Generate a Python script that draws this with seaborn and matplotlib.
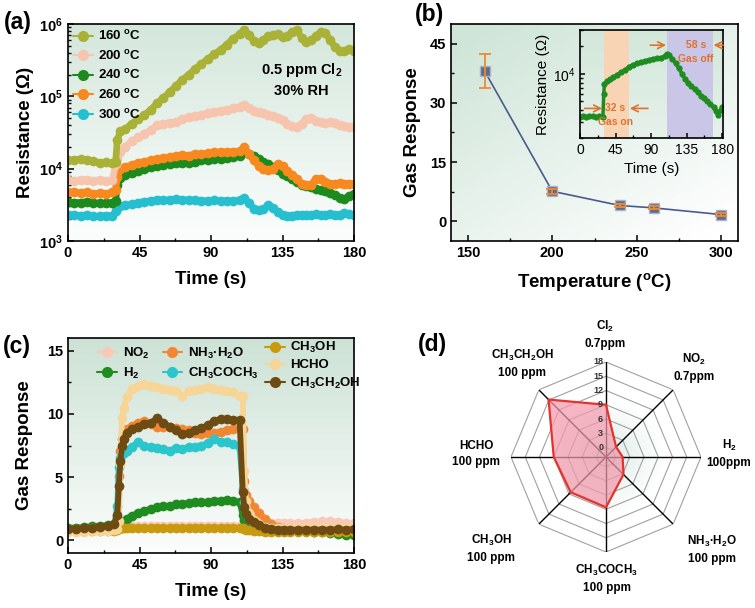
import numpy as np
import pandas as pd
import matplotlib
matplotlib.use('Agg')
import matplotlib.pyplot as plt
import seaborn as sns
from matplotlib.lines import Line2D
from matplotlib.colors import LinearSegmentedColormap
from matplotlib.ticker import MultipleLocator, LogLocator, NullFormatter

# ---------------- data ----------------
# (a) resistance vs time at different temperatures (0.5 ppm Cl2)
T_A = [0, 4, 8, 12, 16, 20, 24, 28, 30, 31, 33, 36, 40, 44, 48, 52, 56, 60, 64, 68, 72, 76,
       80, 84, 88, 92, 96, 100, 104, 108, 111, 114, 117, 120, 123, 126, 129, 132, 135, 138,
       141, 144, 147, 150, 153, 156, 159, 162, 165, 168, 171, 174, 177, 180]
R_160 = [1.30e4, 1.32e4, 1.35e4, 1.33e4, 1.28e4, 1.20e4, 1.22e4, 1.20e4,
         1.25e4, 2.5e4, 3.3e4, 3.5e4,
         4.2e4, 4.8e4, 5.5e4, 6.5e4, 8.0e4, 9.5e4, 1.15e5, 1.4e5, 1.7e5, 2.0e5, 2.4e5, 2.8e5,
         3.3e5, 3.8e5, 4.4e5, 5.2e5, 6.3e5, 7.2e5,
         8.3e5, 7.0e5, 5.8e5, 5.5e5, 6.0e5, 6.8e5, 7.0e5, 7.3e5, 6.6e5, 6.8e5, 7.8e5, 8.2e5,
         6.5e5, 5.6e5, 6.0e5, 6.8e5, 7.8e5, 7.5e5, 6.0e5, 4.8e5, 4.3e5, 4.3e5, 4.5e5, 4.3e5]
R_200 = [7.0e3, 6.8e3, 7.0e3, 6.9e3, 6.7e3, 6.9e3, 6.8e3, 7.0e3,
         1.15e4, 1.4e4, 1.7e4, 2.0e4,
         2.4e4, 2.7e4, 3.0e4, 3.4e4, 4.0e4, 4.2e4, 4.3e4, 4.4e4, 4.8e4, 5.2e4, 5.4e4, 5.5e4,
         5.8e4, 6.0e4, 6.3e4, 6.5e4, 6.8e4, 7.2e4,
         7.6e4, 7.0e4, 6.3e4, 6.0e4, 5.8e4, 5.5e4, 5.3e4, 5.0e4, 4.7e4, 4.2e4, 3.9e4, 3.8e4,
         4.2e4, 4.9e4, 5.0e4, 4.6e4, 4.4e4, 4.3e4, 4.4e4, 4.3e4, 4.0e4, 3.9e4, 3.8e4, 3.8e4]
R_240 = [3.5e3, 3.4e3, 3.4e3, 3.5e3, 3.4e3, 3.3e3, 3.3e3, 3.4e3,
         3.6e3, 5.9e3, 7.5e3, 8.2e3,
         8.8e3, 9.2e3, 9.8e3, 1.05e4, 1.08e4, 1.12e4, 1.15e4, 1.2e4, 1.18e4, 1.2e4, 1.25e4,
         1.3e4, 1.32e4, 1.35e4, 1.38e4, 1.4e4, 1.45e4, 1.48e4,
         1.7e4, 1.6e4, 1.48e4, 1.38e4, 1.25e4, 1.15e4, 1.05e4, 9.5e3, 8.5e3, 8.0e3, 7.3e3,
         6.6e3, 6.0e3, 5.7e3, 5.5e3, 5.3e3, 5.1e3, 4.9e3, 4.6e3, 4.3e3, 3.9e3, 3.8e3, 4.2e3, 4.5e3]
R_260 = [4.8e3, 4.7e3, 4.6e3, 4.7e3, 4.5e3, 4.6e3, 4.5e3, 4.7e3,
         5.0e3, 7.6e3, 9.8e3, 1.05e4,
         1.12e4, 1.2e4, 1.25e4, 1.3e4, 1.35e4, 1.4e4, 1.45e4, 1.5e4, 1.55e4, 1.52e4, 1.6e4,
         1.6e4, 1.65e4, 1.7e4, 1.7e4, 1.7e4, 1.72e4, 1.75e4,
         2.0e4, 1.6e4, 1.3e4, 1.1e4, 1.0e4, 9.5e3, 1.0e4, 1.15e4, 1.1e4, 9.2e3, 8.3e3, 7.3e3,
         6.2e3, 5.9e3, 6.0e3, 7.3e3, 7.2e3, 6.5e3, 6.2e3, 6.2e3, 6.3e3, 6.2e3, 6.2e3, 6.2e3]
R_300 = [2.3e3, 2.3e3, 2.25e3, 2.3e3, 2.2e3, 2.2e3, 2.25e3, 2.25e3,
         2.6e3, 2.9e3, 3.0e3, 3.1e3,
         3.2e3, 3.4e3, 3.5e3, 3.6e3, 3.7e3, 3.7e3, 3.7e3, 3.75e3, 3.7e3, 3.7e3, 3.65e3, 3.6e3,
         3.6e3, 3.65e3, 3.6e3, 3.6e3, 3.6e3, 3.65e3,
         3.9e3, 3.3e3, 2.8e3, 2.7e3, 2.75e3, 3.1e3, 2.9e3, 2.5e3, 2.3e3, 2.25e3, 2.25e3, 2.3e3,
         2.3e3, 2.3e3, 2.3e3, 2.35e3, 2.3e3, 2.3e3, 2.35e3, 2.3e3, 2.3e3, 2.4e3, 2.35e3, 2.3e3]
A_LABELS = ['160 $^{o}$C', '200 $^{o}$C', '240 $^{o}$C', '260 $^{o}$C', '300 $^{o}$C']
A_COLORS = ['#a9b236', '#f7c4ae', '#1c8a1c', '#f7891e', '#26bfd0']

# (b) response vs temperature
TEMP = [160, 200, 240, 260, 300]
RESP = [38.0, 7.6, 4.0, 3.4, 1.7]
ERR = [4.3, 0.6, 0.5, 0.4, 0.4]

# (b) inset
T_IN = [0, 4, 8, 12, 16, 20, 24, 29, 30, 31, 34, 38, 42, 47, 52, 57, 62, 67, 72, 77, 82, 87,
        92, 97, 102, 107, 110, 113, 117, 121, 125, 129, 133, 137, 141, 145, 149, 153, 157,
        161, 165, 169, 172, 175, 178, 180]
R_IN = [3.4e3, 3.45e3, 3.4e3, 3.5e3, 3.45e3, 3.4e3, 3.45e3,
        3.4e3, 6.0e3, 7.8e3,
        8.3e3, 8.7e3, 9.2e3,
        9.8e3, 1.04e4, 1.1e4, 1.2e4, 1.25e4, 1.3e4, 1.34e4, 1.38e4, 1.42e4, 1.46e4, 1.48e4,
        1.5e4, 1.55e4,
        1.66e4, 1.6e4,
        1.45e4, 1.3e4, 1.15e4, 1.0e4, 8.8e3, 8.0e3, 7.4e3, 6.8e3, 6.3e3, 5.8e3, 5.4e3, 5.0e3,
        4.7e3, 4.3e3,
        3.9e3, 3.6e3, 4.0e3, 4.4e3]
GAS_ON = (30, 62)
GAS_OFF = (110, 168)

# (c) response to different gases
T_C = [0, 5, 10, 15, 20, 25, 29, 31, 32, 33, 34, 35, 37, 40, 44, 48, 52, 56, 60, 64, 68, 72,
       76, 80, 84, 88, 92, 96, 100, 104, 108, 110, 111, 112, 114, 117, 120, 124, 128, 132,
       136, 140, 145, 150, 155, 160, 165, 170, 175, 180]
G_NO2 = [0.9, 0.95, 1.0, 1.0, 1.05, 1.05, 1.1,
         1.1, 1.1, 1.1, 1.1, 1.1, 1.1,
         1.1, 1.1, 1.1, 1.1, 1.1, 1.1, 1.1, 1.1, 1.1, 1.1, 1.1, 1.1, 1.1, 1.1, 1.1, 1.1, 1.1, 1.1,
         1.3, 1.6, 1.6, 1.5, 1.5, 1.45, 1.4, 1.4, 1.35, 1.35, 1.35,
         1.35, 1.4, 1.45, 1.5, 1.5, 1.45, 1.4, 1.35]
G_H2 = [1.0, 1.0, 1.05, 1.1, 1.15, 1.2, 1.3,
        1.3, 1.3, 1.3, 1.35, 1.5, 1.7,
        1.95, 2.15, 2.35, 2.5, 2.6, 2.7, 2.75, 2.85, 2.9, 2.95, 3.0, 3.0, 3.05, 3.1, 3.15, 3.2,
        3.15, 3.0,
        1.97, 1.6, 1.3, 1.15, 1.05, 1.0, 0.92, 0.88, 0.85, 0.8, 0.78,
        0.75, 0.72, 0.7, 0.65, 0.6, 0.5, 0.45, 0.4]
G_NH3 = [0.9, 0.9, 0.92, 0.95, 1.0, 1.05, 1.15,
         1.6, 5.1, 7.1, 8.0, 8.4, 8.8,
         9.05, 9.3, 9.45, 9.2, 9.0, 9.0, 9.0, 8.9, 8.8, 8.7, 8.5, 8.4, 8.5, 8.5, 8.6, 8.7, 8.8, 8.9,
         8.8, 4.7, 3.6, 3.1, 2.6, 2.2, 1.7, 1.3, 1.05, 0.95, 0.92,
         0.9, 0.9, 0.9, 0.9, 0.9, 0.9, 0.9, 0.9]
G_ACE = [0.9, 0.9, 0.92, 0.95, 1.0, 1.05, 1.1,
         2.75, 5.8, 6.5, 6.8, 6.9, 7.1,
         7.4, 7.75, 7.5, 7.35, 7.3, 7.2, 7.1, 7.3, 7.2, 7.4, 7.4, 7.5, 7.7, 8.0, 7.8, 7.75, 7.6, 7.4,
         4.1, 3.0, 2.1, 1.7, 1.4, 1.2, 1.05, 0.97, 0.9, 0.88, 0.87,
         0.86, 0.85, 0.85, 0.85, 0.85, 0.82, 0.8, 0.8]
G_MEOH = [0.75, 0.75, 0.75, 0.75, 0.75, 0.75, 0.75,
          0.8, 0.9, 0.97, 0.98, 1.0, 1.0,
          1.0, 1.0, 0.98, 1.0, 1.0, 0.98, 1.0, 1.0, 0.98, 1.0, 1.0, 0.98, 1.0, 1.0, 0.98, 1.0,
          1.0, 0.98,
          0.97, 0.9, 0.85, 0.8, 0.75, 0.72, 0.7, 0.7, 0.7, 0.7, 0.7,
          0.7, 0.7, 0.7, 0.7, 0.7, 0.7, 0.7, 0.7]
G_HCHO = [0.7, 0.7, 0.7, 0.72, 0.72, 0.75, 0.8,
          0.9, 1.5, 6.0, 9.7, 10.5, 11.3,
          12.0, 12.2, 12.4, 12.2, 12.1, 12.0, 11.9, 11.8, 11.4, 11.8, 11.9, 12.0, 12.1, 12.0,
          11.9, 11.8, 11.7, 11.4,
          11.4, 5.5, 3.1, 2.2, 1.6, 1.3, 1.05, 1.0, 0.95, 0.95, 0.95,
          0.95, 0.95, 0.95, 0.95, 0.95, 0.95, 0.95, 0.95]
G_ETOH = [0.9, 0.92, 0.95, 1.0, 1.05, 1.15, 1.3,
          1.97, 4.3, 6.3, 7.5, 8.0, 8.5,
          8.8, 9.0, 9.2, 9.3, 9.65, 9.3, 9.0, 8.7, 8.4, 8.5, 8.7, 8.9, 9.1, 9.45, 9.6, 9.6, 9.55, 9.5,
          3.8, 2.6, 2.1, 1.7, 1.45, 1.2, 1.0, 0.9, 0.85, 0.85, 0.84,
          0.84, 0.85, 0.85, 0.84, 0.85, 0.86, 0.85, 0.86]
C_LABELS = ['NO$_2$', 'H$_2$', 'NH$_3$·H$_2$O', 'CH$_3$COCH$_3$', 'CH$_3$OH', 'HCHO', 'CH$_3$CH$_2$OH']
C_COLORS = ['#f9c9b5', '#1e8c1e', '#f28733', '#2ac6cc', '#c99a0d', '#f7d597', '#6e4b12']

# (d) radar
RADAR_LABELS = ['Cl$_2$\n0.7ppm', 'NO$_2$\n0.7ppm', 'H$_2$\n100ppm', 'NH$_3$·H$_2$O\n100 ppm',
                'CH$_3$COCH$_3$\n100 ppm', 'CH$_3$OH\n100 ppm', 'HCHO\n100 ppm',
                'CH$_3$CH$_2$OH\n100 ppm']
RADAR_VALS = [9.0, 1.0, 1.5, 3.2, 8.6, 8.5, 9.0, 15.1]
RADAR_TICKS = [0, 3, 6, 9, 12, 15, 18]

# ---------------- style ----------------
sns.set_theme(style='ticks')
plt.rcParams['font.family'] = ['Liberation Sans', 'DejaVu Sans']
plt.rcParams.update({
    'font.weight': 'bold', 'axes.labelweight': 'bold', 'mathtext.default': 'regular',
    'xtick.direction': 'in', 'ytick.direction': 'in',
    'xtick.color': 'black', 'ytick.color': 'black', 'axes.edgecolor': 'black',
    'axes.labelcolor': 'black', 'text.color': 'black',
    'xtick.major.size': 4, 'ytick.major.size': 4, 'xtick.minor.size': 2.5, 'ytick.minor.size': 2.5,
    'xtick.major.width': 1.1, 'ytick.major.width': 1.1, 'xtick.minor.width': 1.0,
    'ytick.minor.width': 1.0, 'axes.linewidth': 1.2,
})

W, H = 755, 608
fig = plt.figure(figsize=(W / 100, H / 100), dpi=100)


def box(l, t, w, h):
    return [l / W, 1 - (t + h) / H, w / W, h / H]


def gradient_bg(rect, c_top, c_bot, diagonal=False, z=0):
    bg = fig.add_axes(rect, zorder=z)
    bg.set_axis_off()
    yy, xx = np.mgrid[0:1:200j, 0:1:200j]
    g = np.clip(0.6 * yy + 0.5 * xx - 0.05, 0, 1) if diagonal else yy
    cmap = LinearSegmentedColormap.from_list('g', [c_top, c_bot])
    bg.imshow(g, cmap=cmap, aspect='auto', extent=[0, 1, 0, 1], origin='upper', vmin=0, vmax=1)
    return bg


def main_axes(rect, z=1):
    ax = fig.add_axes(rect, zorder=z)
    ax.set_facecolor('none')
    for s in ax.spines.values():
        s.set_visible(True)
        s.set_linewidth(1.2)
    ax.tick_params(which='both', top=False, right=False)
    return ax


RA = box(68, 24, 286, 217)
RB = box(451, 24, 287, 217)
RI = box(580, 30, 143, 108)
RC = box(68, 338, 286, 215)
RD = box(511, 362, 190, 190)

# ---------------- (a) ----------------
gradient_bg(RA, '#d4e7dc', '#fbfdfc')
axA = main_axes(RA)
series_a = [R_160, R_200, R_240, R_260, R_300]
for idx in [4, 2, 3, 1, 0]:
    sns.lineplot(x=T_A, y=series_a[idx], ax=axA, color=A_COLORS[idx], marker='o', markersize=7,
                 markeredgewidth=0, linewidth=4.8, legend=False)
axA.set_yscale('log')
axA.set_xlim(0, 180)
axA.set_ylim(1e3, 1e6)
axA.xaxis.set_major_locator(MultipleLocator(45))
axA.xaxis.set_minor_locator(MultipleLocator(22.5))
axA.yaxis.set_minor_locator(LogLocator(base=10, subs=np.arange(2, 10)))
axA.yaxis.set_minor_formatter(NullFormatter())
axA.tick_params(labelsize=10.5)
axA.set_xlabel('Time (s)', fontsize=13.5, labelpad=8)
axA.set_ylabel('Resistance (Ω)', fontsize=13.5, labelpad=4)
hA = [Line2D([0], [0], color=c, marker='o', markersize=8, lw=1.5, markeredgewidth=0) for c in A_COLORS]
axA.legend(hA, A_LABELS, loc='upper left', bbox_to_anchor=(0.0, 1.0), frameon=False, fontsize=9.5,
           handlelength=1.5, handletextpad=0.4, labelspacing=0.42, borderaxespad=0.2, borderpad=0.2)
axA.text(147, 10 ** 5.36, '0.5 ppm Cl$_2$', ha='center', va='center', fontsize=10.5)
axA.text(147, 10 ** 5.07, '30% RH', ha='center', va='center', fontsize=10.5)

# ---------------- (b) ----------------
gradient_bg(RB, '#cfe5d8', '#ffffff', diagonal=True)
axB = main_axes(RB)
sns.lineplot(x=TEMP, y=RESP, ax=axB, color='#4b5a8e', lw=1.2, marker='s', markersize=7.5,
             markerfacecolor='#5e6c8e', markeredgecolor='#aab3c8', markeredgewidth=1, legend=False)
axB.errorbar(TEMP, RESP, yerr=ERR, fmt='none', ecolor='#f08a30', elinewidth=1.3, capsize=4,
             capthick=1.3, zorder=3)
axB.set_xlim(140, 310)
axB.set_ylim(-5, 50)
axB.set_xticks([150, 200, 250, 300])
axB.set_yticks([0, 15, 30, 45])
axB.xaxis.set_minor_locator(MultipleLocator(25))
axB.yaxis.set_minor_locator(MultipleLocator(7.5))
axB.tick_params(labelsize=10.5)
axB.set_xlabel('Temperature ($^{o}$C)', fontsize=13.5, labelpad=8)
axB.set_ylabel('Gas Response', fontsize=13.5, labelpad=6)

# inset
gradient_bg(RI, '#d2e7da', '#e6f1ea', z=2)
axI = main_axes(RI, z=3)
axI.axvspan(*GAS_ON, color='#f8d4b4', lw=0, zorder=0)
axI.axvspan(*GAS_OFF, color='#c9c6e7', lw=0, zorder=0)
sns.lineplot(x=T_IN, y=R_IN, ax=axI, color='#1e8c1e', marker='o', markersize=4.5,
             markeredgewidth=0, lw=2.5, legend=False)
axI.set_yscale('log')
axI.set_xlim(0, 181)
axI.set_ylim(2e3, 3e4)
axI.xaxis.set_major_locator(MultipleLocator(45))
axI.xaxis.set_minor_locator(MultipleLocator(22.5))
axI.yaxis.set_minor_locator(LogLocator(base=10, subs=np.arange(2, 10)))
axI.yaxis.set_minor_formatter(NullFormatter())
axI.tick_params(labelsize=10, length=3.5)
axI.tick_params(which='minor', length=2.2)
for lab in axI.get_xticklabels() + axI.get_yticklabels():
    lab.set_fontweight('normal')
axI.set_xlabel('Time (s)', fontsize=11, fontweight='normal', labelpad=4)
axI.set_ylabel('Resistance (Ω)', fontsize=11, fontweight='normal', labelpad=2)
OR = '#e0722e'
arr = dict(arrowstyle='->', color=OR, lw=1.2, shrinkA=0, shrinkB=0)
axI.annotate('', xy=(28, 4.2e3), xytext=(6, 4.2e3), arrowprops=arr)
axI.annotate('', xy=(63, 4.2e3), xytext=(86, 4.2e3), arrowprops=arr)
axI.text(45, 4.2e3, '32 s', color=OR, fontsize=7.5, ha='center', va='center')
axI.text(45, 2.95e3, 'Gas on', color=OR, fontsize=7.5, ha='center', va='center')
axI.annotate('', xy=(109, 2.05e4), xytext=(89, 2.05e4), arrowprops=arr)
axI.annotate('', xy=(169, 2.05e4), xytext=(181, 2.05e4), arrowprops=arr)
axI.text(147, 2.05e4, '58 s', color=OR, fontsize=7.5, ha='center', va='center')
axI.text(147, 1.46e4, 'Gas off', color=OR, fontsize=7.5, ha='center', va='center')

# ---------------- (c) ----------------
gradient_bg(RC, '#cde2d6', '#fcfdfc')
axC = main_axes(RC)
series_c = [G_NO2, G_H2, G_NH3, G_ACE, G_MEOH, G_HCHO, G_ETOH]
for vals, col in zip(series_c, C_COLORS):
    sns.lineplot(x=T_C, y=vals, ax=axC, color=col, marker='o', markersize=7, markeredgewidth=0,
                 linewidth=4.2, legend=False)
axC.set_xlim(0, 180)
axC.set_ylim(-1, 16)
axC.xaxis.set_major_locator(MultipleLocator(45))
axC.xaxis.set_minor_locator(MultipleLocator(22.5))
axC.set_yticks([0, 5, 10, 15])
axC.yaxis.set_minor_locator(MultipleLocator(2.5))
axC.tick_params(labelsize=10.5)
axC.set_xlabel('Time (s)', fontsize=13.5, labelpad=8)
axC.set_ylabel('Gas Response', fontsize=13.5, labelpad=10)
hC = [Line2D([0], [0], color=c, marker='o', markersize=8, lw=1.5, markeredgewidth=0) for c in C_COLORS]
leg1 = axC.legend(hC[:4], C_LABELS[:4], ncol=2, loc='upper left', bbox_to_anchor=(0.103, 0.965),
                  frameon=False, fontsize=9.5, handlelength=1.5, handletextpad=0.4,
                  labelspacing=0.4, columnspacing=1.0, borderaxespad=0, borderpad=0)
axC.add_artist(leg1)
axC.legend(hC[4:], C_LABELS[4:], loc='upper left', bbox_to_anchor=(0.69, 0.99), frameon=False,
           fontsize=9.5, handlelength=1.5, handletextpad=0.4, labelspacing=0.3,
           borderaxespad=0, borderpad=0)

# ---------------- (d) radar ----------------
axD = fig.add_axes(RD, projection='polar', zorder=1)
axD.set_facecolor('none')
axD.set_theta_zero_location('N')
axD.set_theta_direction(-1)
n = len(RADAR_VALS)
ang = np.linspace(0, 2 * np.pi, n, endpoint=False)
ang_c = np.append(ang, ang[0])
th_g = np.linspace(0, 2 * np.pi, 73)
r_g = np.linspace(-2, 18, 41)
TH, RR = np.meshgrid(th_g, r_g)
shade = np.clip(1 - (RR[:-1, :-1] + 2) / 13, 0, 1) ** 1.3
gcm = LinearSegmentedColormap.from_list('rg', ['#ffffff', '#d6e9e2'])
axD.pcolormesh(TH, RR, shade, cmap=gcm, vmin=0, vmax=1, shading='flat', zorder=0)
for r in RADAR_TICKS:
    axD.plot(ang_c, [r] * (n + 1), color='#a0a0a0', lw=0.8, zorder=1)
for a in ang:
    axD.plot([a, a], [-2, 18], color='black', lw=1.0, zorder=2)
vals_c = RADAR_VALS + RADAR_VALS[:1]
axD.fill(ang_c, vals_c, color='#f39aac', alpha=0.72, lw=0, zorder=3)
axD.plot(ang_c, vals_c, color='#e5322d', lw=1.6, zorder=4)
for r in RADAR_TICKS:
    axD.annotate(str(r), xy=(0, r), xytext=(-2, 0), textcoords='offset points', ha='right',
                 va='center', fontsize=6.5, color='#333333', zorder=5)
axD.set_ylim(-2, 18)
axD.grid(False)
axD.set_xticks([])
axD.set_yticks([])
axD.spines['polar'].set_visible(False)

LABEL_PX = [(605, 334), (694, 367), (729, 453), (712, 549), (607, 578), (491, 548), (476, 454),
            (522, 363)]
for lab, (x, y) in zip(RADAR_LABELS, LABEL_PX):
    fig.text(x / W, 1 - y / H, lab, ha='center', va='center', fontsize=8.5, linespacing=1.45)

# panel letters
for letter, (x, y) in zip(['(a)', '(b)', '(c)', '(d)'], [(18, 22), (430, 15), (17, 346), (432, 344)]):
    fig.text(x / W, 1 - y / H, letter, ha='center', va='center', fontsize=16.5)

fig.savefig('out.png', dpi=100)
